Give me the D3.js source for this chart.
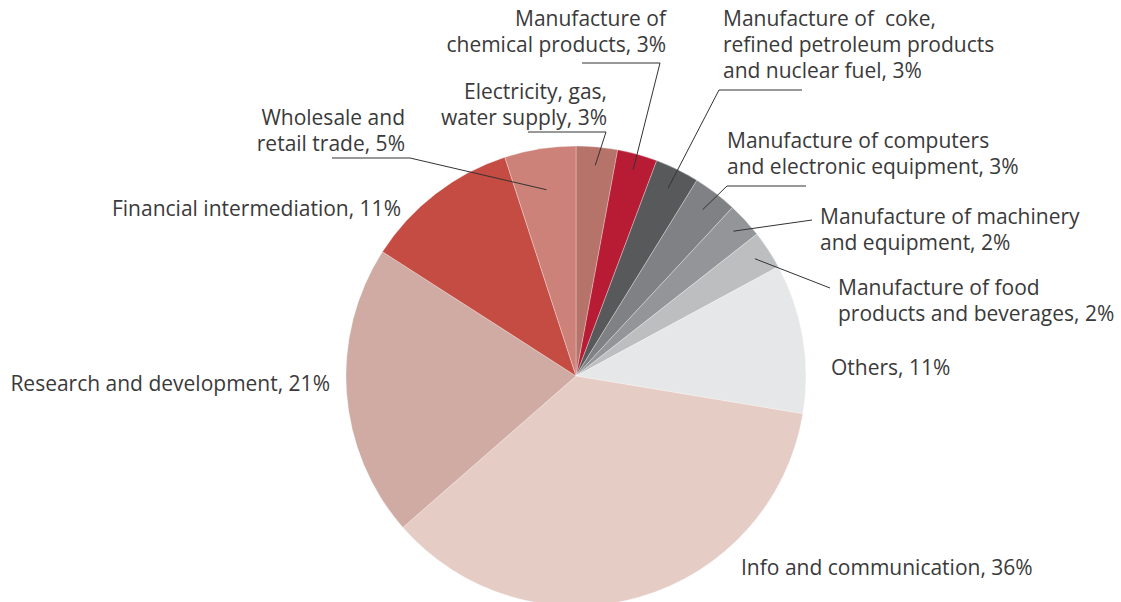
<!DOCTYPE html>
<html>
<head>
<meta charset="utf-8">
<script src="https://cdn.jsdelivr.net/npm/d3@7"></script>
<style>
  body { margin: 0; background: #fff; }
  text { font-family: "Open Sans", sans-serif; fill: #3a3a3a; white-space: pre; }
</style>
</head>
<body>
<div id="chart"></div>
<script>
// Data (clockwise from 12 o'clock)
var sectors = [
  "Electricity, gas, water supply",
  "Manufacture of chemical products",
  "Manufacture of coke, refined petroleum products and nuclear fuel",
  "Manufacture of computers and electronic equipment",
  "Manufacture of machinery and equipment",
  "Manufacture of food products and beverages",
  "Others",
  "Info and communication",
  "Research and development",
  "Financial intermediation",
  "Wholesale and retail trade"
];
// shares
var shares = [2.9, 2.8, 3.1, 3.1, 2.5, 2.7, 10.5, 35.9, 20.5, 10.9, 5.0];
// label texts as printed
var labelLines = [
  ["Electricity, gas,", "water supply, 3%"],
  ["Manufacture of", "chemical products, 3%"],
  ["Manufacture of  coke,", "refined petroleum products", "and nuclear fuel, 3%"],
  ["Manufacture of computers", "and electronic equipment, 3%"],
  ["Manufacture of machinery", "and equipment, 2%"],
  ["Manufacture of food", "products and beverages, 2%"],
  ["Others, 11%"],
  ["Info and communication, 36%"],
  ["Research and development, 21%"],
  ["Financial intermediation, 11%"],
  ["Wholesale and", "retail trade, 5%"]
];
var colors = ["#b5736a", "#b81c35", "#58595b", "#808184", "#939598", "#bcbec0",
              "#e6e7e8", "#e5cdc5", "#cfaba3", "#c44c43", "#cd8279"];

// Layout
var W = 1121, H = 602;
var cx = 576, cy = 376, radius = 230;
var lineH = 26;
// label placement: anchor, x, y of first line centre, leader elbow points, anchor radius factor
var layout = [
  {anchor: "end",   x: 607, y: 92,  lead: [[606,132],[528,132]], rf: 0.92},
  {anchor: "end",   x: 666, y: 19,  lead: [[660,63],[582,63]],   rf: 0.93},
  {anchor: "start", x: 723, y: 19,  lead: [[719,90],[802,90]],   rf: 0.91},
  {anchor: "start", x: 727, y: 141, lead: [[727,186],[806,186]], rf: 0.91},
  {anchor: "start", x: 820, y: 217, lead: [[812,220]],           rf: 0.93},
  {anchor: "start", x: 838, y: 288, lead: [[830,288]],           rf: 0.93},
  {anchor: "start", x: 831, y: 368, lead: null},
  {anchor: "start", x: 741, y: 568, lead: null},
  {anchor: "end",   x: 330, y: 384, lead: null},
  {anchor: "end",   x: 401, y: 209, lead: null},
  {anchor: "end",   x: 405, y: 118, lead: [[410,158],[332,158]], rf: 0.82}
];

var svg = d3.select("#chart").append("svg")
  .attr("width", W)
  .attr("height", H);

var g = svg.append("g").attr("transform", "translate(" + cx + "," + cy + ")");

var pie = d3.pie().sort(null).value(function(d){ return d; });
var arcs = pie(shares);
var arc = d3.arc().innerRadius(0).outerRadius(radius);

g.selectAll(".slice")
  .data(arcs)
  .enter()
  .append("path")
  .attr("class", "slice")
  .attr("d", arc)
  .attr("fill", function(d, i){ return colors[i]; })
  .attr("stroke", "#fff")
  .attr("stroke-opacity", 0.5)
  .attr("stroke-width", 0.6);

// leader lines
var line = d3.line();
arcs.forEach(function(d, i){
  var L = layout[i];
  if (!L.lead) return;
  var a = (d.startAngle + d.endAngle) / 2;
  var r = radius * L.rf;
  var pts = [[cx + r * Math.sin(a), cy - r * Math.cos(a)]].concat(L.lead);
  svg.append("path")
    .attr("d", line(pts))
    .attr("fill", "none")
    .attr("stroke", "#333")
    .attr("stroke-width", 1);
});

// labels
labelLines.forEach(function(lines, i){
  var L = layout[i];
  var t = svg.append("text")
    .attr("text-anchor", L.anchor)
    .style("font-size", "21px");
  lines.forEach(function(s, k){
    t.append("tspan")
      .attr("x", L.x)
      .attr("y", L.y + k * lineH)
      .attr("dy", "0.35em")
      .text(s);
  });
});
</script>
</body>
</html>
